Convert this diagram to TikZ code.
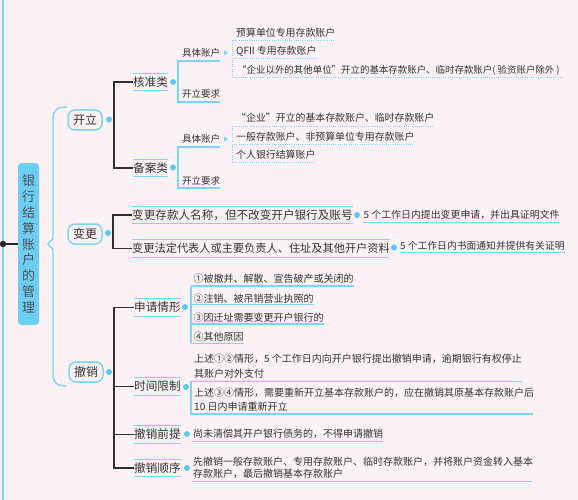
\documentclass[tikz,border=0pt]{standalone}
\usepackage{fontspec}
\setmainfont{Noto Sans CJK SC}
\definecolor{bgc}{HTML}{FCF2F5}
\definecolor{lb}{HTML}{7ED4F7}
\definecolor{dc}{HTML}{5EC8F0}
\definecolor{rootc}{HTML}{6CCEF4}
\definecolor{tc}{HTML}{333333}
\definecolor{cc}{HTML}{2E2E2E}
\begin{document}
\begin{tikzpicture}[x=1pt,y=-1pt,
  lvone/.style={draw=lb, line width=1.5pt, rounded corners=7pt, fill=bgc, minimum width=34pt, minimum height=20pt, inner sep=0pt, text=tc, font=\fontsize{12}{14}\selectfont, text height=10.5pt, text depth=1.5pt},
  lvtwo/.style={anchor=west, minimum height=17pt, inner xsep=0pt, inner ysep=0pt, text=tc, font=\fontsize{11.6}{13}\selectfont, text height=10.2pt, text depth=1.4pt},
  sub/.style={anchor=base west, inner sep=0pt, text=tc, font=\fontsize{9.5}{11}\selectfont},
  itm/.style={anchor=base west, inner sep=0pt, text=tc, font=\fontsize{9.9}{12}\selectfont},
  bl/.style={draw=lb, line width=1.2pt},
  dl/.style={draw=lb, line width=0.9pt, dash pattern=on 0.9pt off 1.3pt},
  conn/.style={draw=cc, line width=1.1pt},
  dotn/.style={circle, fill=dc, inner sep=0pt, minimum size=6pt},
]
\useasboundingbox (0,0) rectangle (578,500);
\fill[bgc] (0,0) rectangle (578,500);

% left rail and root
\draw[lb, line width=1.3pt] (3,0) -- (3,500);
\node[rectangle, rounded corners=3.5pt, fill=rootc, minimum width=21pt, minimum height=162pt, inner sep=0pt, align=center, text=tc!85, font=\fontsize{13}{15.8}\selectfont] (root) at (28.5,244) {银\\行\\结\\算\\账\\户\\的\\管\\理};
\node[circle, fill=black!85, minimum size=6.5pt, inner sep=0pt] (rd) at (3,244) {};
\draw[black!85, line width=1.1pt] (rd) -- (root.west);

% brace
\draw[lb, line width=1.4pt] (67,107) .. controls (57,107) and (53,110) .. (53,119) -- (53,238.5) -- (48,244) -- (53,249.5) -- (53,374) .. controls (53,383) and (57,386) .. (67,386);

% level one
\node[lvone] (kl) at (85,120) {开立};
\node[lvone] (bgn) at (85,234) {变更};
\node[lvone] (cs) at (86,372) {撤销};
\node[dotn] (kld) at (109,119.5) {};
\node[dotn] (bgd) at (108,233) {};
\node[dotn] (csd) at (109,372) {};

% ---------- 开立 ----------
\node[lvtwo] (hz) at (133,82) {核准类};
\node[lvtwo] (ba) at (133,168) {备案类};
\draw[bl] (hz.north west) -- (hz.north east) (hz.south west) -- (hz.south east);
\draw[bl] (ba.north west) -- (ba.north east) (ba.south west) -- (ba.south east);
\coordinate (kb) at (114,120);
\draw[conn] (hz.west) -| (kb) |- (ba.west);
\node[dotn] (hzd) at (173,82) {};
\node[dotn] (bad) at (173,167.5) {};

% 核准类 details
\node[sub] (jt1) at (182,56.6) {具体账户};
\node[sub] (ky1) at (182,97.6) {开立要求};
\draw[bl] (jt1.east |- 0,61) -- (178,61) -- (178,102) -- (ky1.east |- 0,102);
\fill[lb] (224,50.5) -- (228.5,53) -- (224,55.5) -- cycle;
\node[itm] (h1) at (236,36.3) {预算单位专用存款账户};
\node[itm] (h2) at (236,54.8) {QFII 专用存款账户};
\node[itm, font=\fontsize{9.45}{12}\selectfont] (h3) at (237,73.8) {“企业以外的其他单位”开立的基本存款账户、临时存款账户( 验资账户除外 )};
\draw[dl] (232,40) -- (232,77.5);
\draw[dl] (232,40) -- (h1.east |- 0,40);
\draw[dl] (232,58) -- (h2.east |- 0,58);
\draw[dl] (232,77.5) -- (563,77.5);

% 备案类 details
\node[sub] (jt2) at (182,142.1) {具体账户};
\node[sub] (ky2) at (182,184.6) {开立要求};
\draw[bl] (jt2.east |- 0,147) -- (178,147) -- (178,188) -- (ky2.east |- 0,188);
\fill[lb] (224,136.5) -- (228.5,139) -- (224,141.5) -- cycle;
\node[itm] (b1) at (236,121.3) {“企业”开立的基本存款账户、临时存款账户};
\node[itm] (b2) at (236,140.8) {一般存款账户、非预算单位专用存款账户};
\node[itm] (b3) at (236,158.8) {个人银行结算账户};
\draw[dl] (232,126) -- (232,162.7);
\draw[dl] (232,126) -- (b1.east |- 0,126);
\draw[dl] (232,144.3) -- (b2.east |- 0,144.3);
\draw[dl] (232,162.7) -- (b3.east |- 0,162.7);

% ---------- 变更 ----------
\node[lvtwo] (g1) at (132,215) {变更存款人名称，但不改变开户银行及账号};
\node[lvtwo, font=\fontsize{11.2}{13}\selectfont, text height=9.85pt, text depth=1.35pt] (g2) at (132,248.5) {变更法定代表人或主要负责人、住址及其他开户资料};
\draw[bl] (g1.north west) -- (g1.north east) (g1.south west) -- (g1.south east);
\draw[bl] (g2.north west) -- (g2.north east) (g2.south west) -- (g2.south east);
\coordinate (bb) at (113,232);
\draw[conn] (g1.west) -| (bb) |- (g2.west);
\node[dotn] (g1d) at (357,215) {};
\node[dotn] (g2d) at (394,247.5) {};
\node[itm] (g1r) at (363.5,218.8) {5 个工作日内提出变更申请，并出具证明文件};
\node[itm, font=\fontsize{9.8}{12}\selectfont] (g2r) at (400,249.8) {5 个工作日内书面通知并提供有关证明};
\draw[bl] (363,222.5) -- (g1r.east |- 0,222.5);
\draw[bl] (400,252.3) -- (g2r.east |- 0,252.3);

% ---------- 撤销 ----------
\node[lvtwo] (sq) at (134,307.5) {申请情形};
\node[lvtwo] (sj) at (134,386.5) {时间限制};
\node[lvtwo] (cq) at (134,434.5) {撤销前提};
\node[lvtwo] (cx) at (134,468) {撤销顺序};
\foreach \n in {sq,sj,cq,cx}{
  \draw[bl] (\n.north west) -- (\n.north east) (\n.south west) -- (\n.south east);
}
\coordinate (cb) at (114,372);
\draw[conn] (sq.west) -| (cb) |- (cx.west);
\draw[conn] (cb |- sj.west) -- (sj.west);
\draw[conn] (cb |- cq.west) -- (cq.west);
\node[dotn] (sqd) at (185,307) {};
\node[dotn] (sjd) at (186,387) {};
\node[dotn] (cqd) at (187,434) {};
\node[dotn] (cxd) at (187,468) {};

% 申请情形 items
\node[itm, font=\fontsize{10}{12}\selectfont] (s1) at (193.5,282.8) {①被撤并、解散、宣告破产或关闭的};
\node[itm, font=\fontsize{10}{12}\selectfont] (s2) at (193.5,302.1) {②注销、被吊销营业执照的};
\node[itm, font=\fontsize{10}{12}\selectfont] (s3) at (193.5,321.1) {③因迁址需要变更开户银行的};
\node[itm, font=\fontsize{10}{12}\selectfont] (s4) at (193.5,340.5) {④其他原因};
\draw[bl] (191,286) -- (191,343.3);
\draw[bl] (191,286) -- (s1.east |- 0,286);
\draw[bl] (191,304.3) -- (s2.east |- 0,304.3);
\draw[bl] (191,324) -- (s3.east |- 0,324);
\draw[bl] (191,343.3) -- (s4.east |- 0,343.3);

% 时间限制 items
\node[itm, font=\fontsize{10}{12}\selectfont] (t1) at (194,362.8) {上述①②情形，5 个工作日内向开户银行提出撤销申请，逾期银行有权停止};
\node[itm, font=\fontsize{10}{12}\selectfont] (t2) at (194,377.1) {其账户对外支付};
\node[itm, font=\fontsize{10}{12}\selectfont] (t3) at (194,396.5) {上述③④情形，需要重新开立基本存款账户的，应在撤销其原基本存款账户后};
\node[itm, font=\fontsize{10}{12}\selectfont] (t4) at (194,410.5) {10 日内申请重新开立};
\draw[bl] (522,381.7) -- (191,381.7) -- (191,414) -- (533,414);

% 撤销前提 / 顺序
\node[itm, font=\fontsize{10}{12}\selectfont] (c1) at (193,437.1) {尚未清偿其开户银行债务的，不得申请撤销};
\draw[bl] (192,441.7) -- (c1.east |- 0,441.7);
\node[itm, font=\fontsize{10}{12}\selectfont] (x1) at (193,465.5) {先撤销一般存款账户、专用存款账户、临时存款账户，并将账户资金转入基本};
\node[itm, font=\fontsize{10}{12}\selectfont] (x2) at (193,477.1) {存款账户，最后撤销基本存款账户};
\draw[bl] (192,481.7) -- (532,481.7);
\end{tikzpicture}
\end{document}
